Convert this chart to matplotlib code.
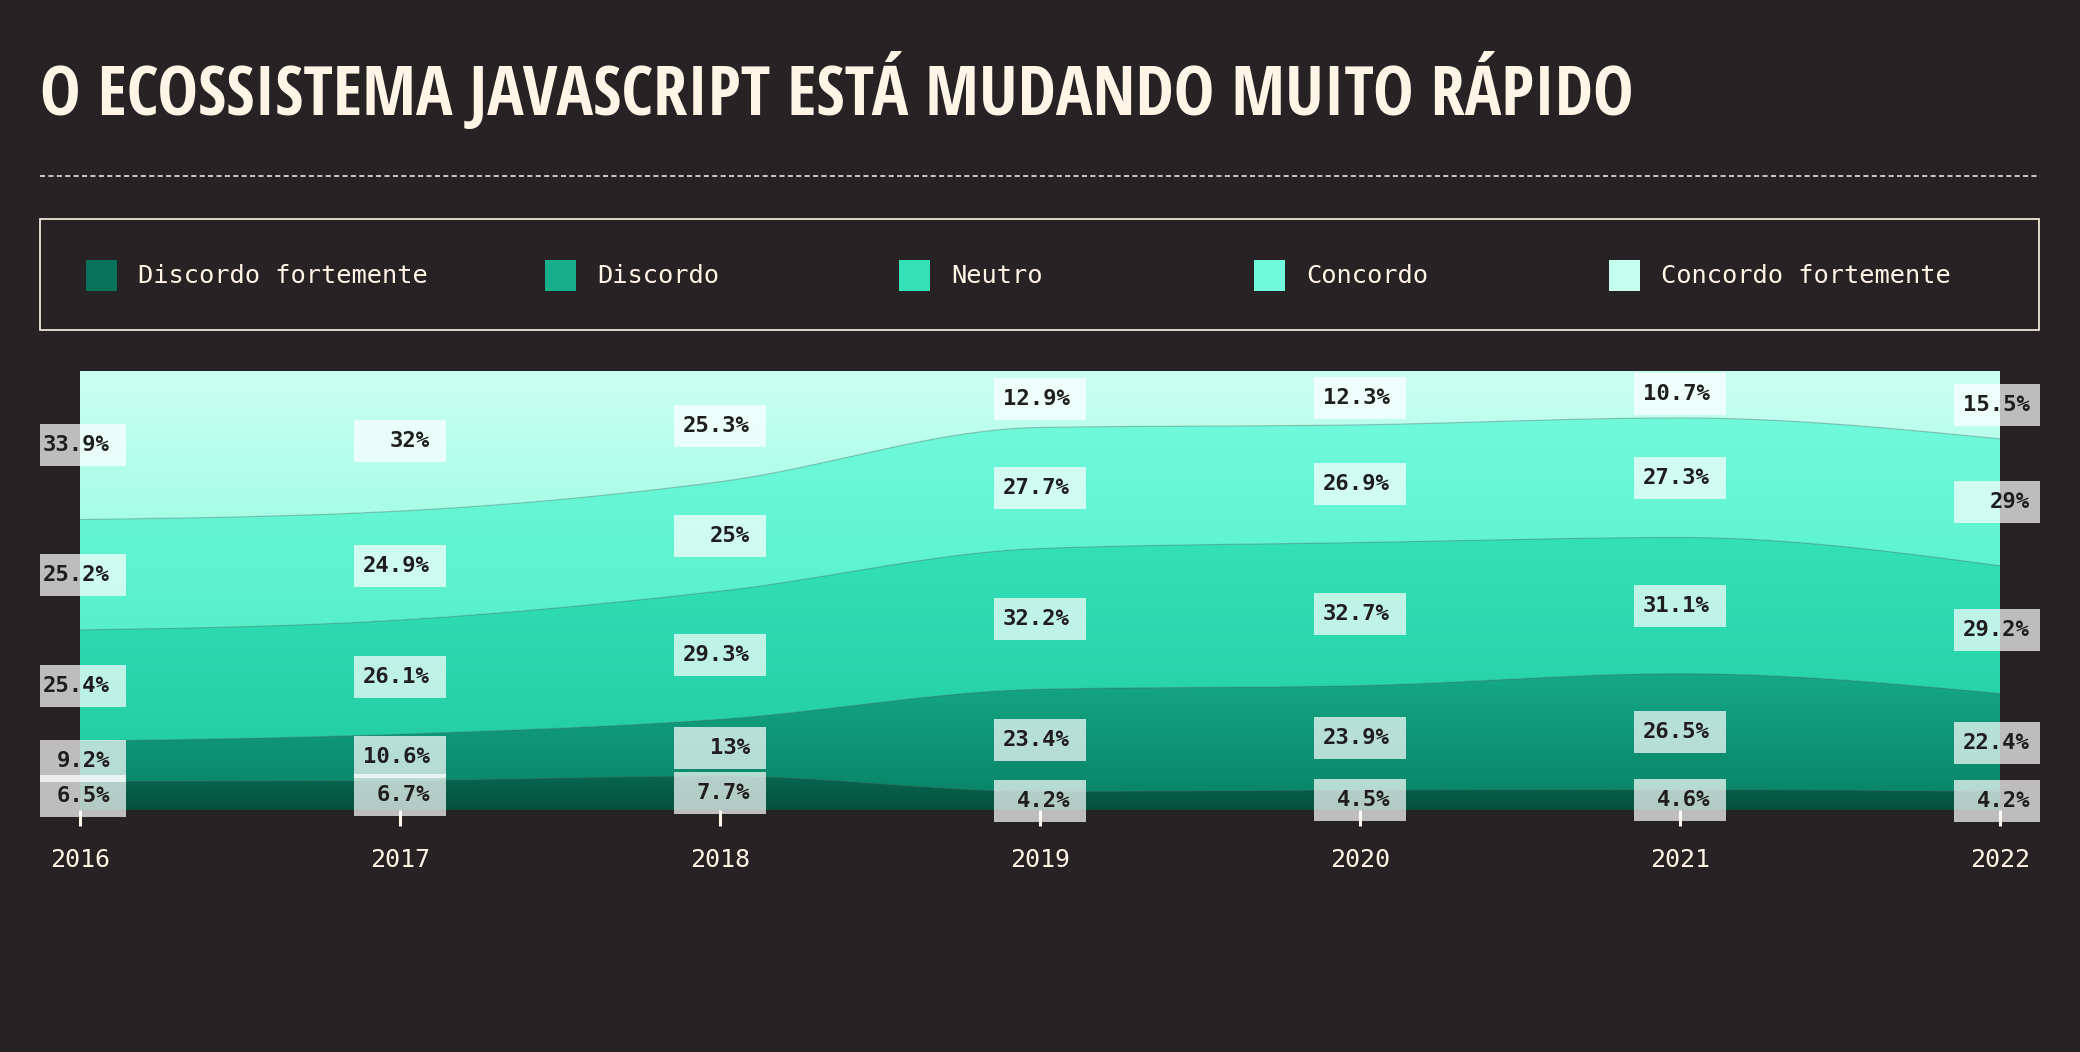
import numpy as np
import matplotlib
matplotlib.use("Agg")
import matplotlib.pyplot as plt
from matplotlib import font_manager
from matplotlib.font_manager import FontProperties
from matplotlib.colors import LinearSegmentedColormap
from matplotlib.patches import Rectangle
from matplotlib.lines import Line2D
from matplotlib.transforms import Bbox, TransformedBbox

# data (percent per year, stacked bottom -> top)
years = [2016, 2017, 2018, 2019, 2020, 2021, 2022]
categories = ["Discordo fortemente", "Discordo", "Neutro", "Concordo", "Concordo fortemente"]
discordo_fortemente = [6.5, 6.7, 7.7, 4.2, 4.5, 4.6, 4.2]
discordo = [9.2, 10.6, 13, 23.4, 23.9, 26.5, 22.4]
neutro = [25.4, 26.1, 29.3, 32.2, 32.7, 31.1, 29.2]
concordo = [25.2, 24.9, 25, 27.7, 26.9, 27.3, 29]
concordo_fortemente = [33.9, 32, 25.3, 12.9, 12.3, 10.7, 15.5]
title = "O ECOSSISTEMA JAVASCRIPT ESTÁ MUDANDO MUITO RÁPIDO"

W, H = 2080, 1052
BG = "#272324"
CREAM = "#fff5e6"
INK = "#201d1e"
legend_colors = ["#08735a", "#17ae8b", "#34e0b6", "#6ffadb", "#c4fff0"]
grad_top = ["#07664f", "#15a886", "#34e1b7", "#70fadb", "#cbfff2"]
grad_bottom = ["#03503d", "#0a8669", "#24cfa6", "#57f0cb", "#a6fde6"]

MONO = "DejaVu Sans Mono"


def fx(px):
    return px / W


def fy(py):
    return 1 - py / H


def monotone(x, y, xs):
    # d3 curveMonotoneX style hermite curve through the points
    x = np.asarray(x, float)
    y = np.asarray(y, float)
    h = np.diff(x)
    s = np.diff(y) / h
    t = np.zeros_like(y)
    for i in range(1, len(y) - 1):
        s0, s1 = s[i - 1], s[i]
        p = (s0 * h[i] + s1 * h[i - 1]) / (h[i - 1] + h[i])
        t[i] = (np.sign(s0) + np.sign(s1)) * min(abs(s0), abs(s1), 0.5 * abs(p))
    t[0] = (3 * s[0] - t[1]) / 2
    t[-1] = (3 * s[-1] - t[-2]) / 2
    out = np.empty_like(xs)
    for k, xv in enumerate(xs):
        i = min(np.searchsorted(x, xv, side="right") - 1, len(x) - 2)
        u = (xv - x[i]) / h[i]
        h00 = 2 * u**3 - 3 * u**2 + 1
        h10 = u**3 - 2 * u**2 + u
        h01 = -2 * u**3 + 3 * u**2
        h11 = u**3 - u**2
        out[k] = h00 * y[i] + h10 * h[i] * t[i] + h01 * y[i + 1] + h11 * h[i] * t[i + 1]
    return out


def as_weight(w):
    if isinstance(w, str):
        return font_manager.weight_dict.get(w, 400)
    return int(w)


def pick_title_font(fig):
    # the original uses a heavy condensed display face; take the narrowest bold sans installed
    prefixes = ("Roboto", "Liberation Sans", "DejaVu Sans", "Open Sans", "Noto Sans", "Lato", "Inter")
    best = FontProperties(family="DejaVu Sans", weight="bold")
    best_w = None
    r = fig.canvas.get_renderer()
    for f in font_manager.fontManager.ttflist:
        if not f.name.startswith(prefixes) or as_weight(f.weight) < 600:
            continue
        if any(k in f.name for k in ("Mono", "CJK", "Symbol", "Math", "Serif")):
            continue
        try:
            ft = font_manager.get_font(f.fname)
            if not all(ft.get_char_index(ord(c)) for c in "AÁEJMRS"):
                continue
        except Exception:
            continue
        fp = FontProperties(fname=f.fname)
        tt = fig.text(0, 0, title, fontproperties=fp, fontsize=50)
        w = tt.get_window_extent(r).width
        tt.remove()
        if w > 600 and (best_w is None or w < best_w):
            best, best_w = fp, w
    return best


def main():
    series = np.array([discordo_fortemente, discordo, neutro, concordo, concordo_fortemente])
    share = series / series.sum(axis=0)
    cum = np.vstack([np.zeros(len(years)), np.cumsum(share, axis=0)])

    fig = plt.figure(figsize=(W / 100, H / 100), dpi=100, facecolor=BG)

    # title
    tfp = pick_title_font(fig)
    t = fig.text(fx(40), fy(115), title, color=CREAM, fontproperties=tfp, fontsize=60,
                 ha="left", va="baseline")
    fig.canvas.draw()
    bb = t.get_window_extent()
    t.set_fontsize(60 * 1596 / bb.width)

    # dashed separator
    fig.add_artist(Line2D([fx(40), fx(2040)], [fy(176), fy(176)], color=CREAM, lw=1.1,
                          linestyle=(0, (3.3, 2.2)), transform=fig.transFigure))

    # legend box
    fig.add_artist(Rectangle((fx(40), fy(330)), fx(2039) - fx(40), fy(219) - fy(330), fill=False,
                             edgecolor=CREAM, lw=1.2, transform=fig.transFigure))
    leg_x = [86, 545, 899, 1254, 1609]
    for name, col, lx in zip(categories, legend_colors, leg_x):
        fig.add_artist(Rectangle((fx(lx), fy(291)), fx(31), 31 / H, facecolor=col, lw=0,
                                 transform=fig.transFigure))
        fig.text(fx(lx + 52), fy(276), name, color=CREAM, family=MONO, fontsize=18.3,
                 ha="left", va="center")

    # stacked area chart
    ax_l, ax_r, ax_t, ax_b = 80, 2000, 371, 810
    ax = fig.add_axes([fx(ax_l), fy(ax_b), fx(ax_r - ax_l), (ax_b - ax_t) / H])
    ax.set_facecolor(BG)
    xs = np.linspace(years[0], years[-1], 600)
    smooth = [monotone(years, c, xs) for c in cum]
    for i in range(len(categories)):
        lo, hi = smooth[i], smooth[i + 1]
        poly = ax.fill_between(xs, lo, hi, facecolor=grad_bottom[i], lw=0, zorder=1)
        cmap = LinearSegmentedColormap.from_list("g%d" % i, [grad_bottom[i], grad_top[i]])
        grad = np.linspace(0, 1, 256).reshape(-1, 1)
        im = ax.imshow(grad, extent=[years[0], years[-1], lo.min(), hi.max()], origin="lower",
                       aspect="auto", cmap=cmap, zorder=2, interpolation="bicubic")
        im.set_clip_path(poly.get_paths()[0], ax.transData)
        if i < len(categories) - 1:
            ax.plot(xs, hi, color=(0.3, 0.35, 0.35, 0.3), lw=0.9, zorder=3)

    ax.set_xlim(years[0], years[-1])
    ax.set_ylim(0, 1)

    # value labels at the middle of each band, clipped to the page margins
    page_clip = TransformedBbox(Bbox([[fx(40), 0], [fx(2040), 1]]), fig.transFigure)
    px_x = (ax_r - ax_l) / (years[-1] - years[0])
    px_y = ax_b - ax_t
    bw, bh = 92 / px_x, 42 / px_y
    for i in range(len(categories)):
        for j, yr in enumerate(years):
            mid = (cum[i][j] + cum[i + 1][j]) / 2
            box = Rectangle((yr - bw / 2, mid - bh / 2), bw, bh, facecolor="white",
                            alpha=0.7, lw=0, zorder=5)
            ax.add_patch(box)
            box.set_clip_box(page_clip)
            ax.text(yr + 30 / px_x, mid, f"{series[i][j]:g}%", color=INK, family=MONO,
                    fontweight="bold", fontsize=16, ha="right", va="center", zorder=6,
                    clip_on=False)

    ax.set_xticks(years)
    ax.set_xticklabels([str(y) for y in years])
    ax.set_yticks([])
    ax.tick_params(axis="x", colors=CREAM, length=11.5, width=2.2, pad=16, labelsize=18,
                   direction="out")
    for lab in ax.get_xticklabels():
        lab.set_family(MONO)
    for sp in ax.spines.values():
        sp.set_visible(False)

    fig.savefig("out.png", dpi=100, facecolor=BG)


if __name__ == "__main__":
    main()
